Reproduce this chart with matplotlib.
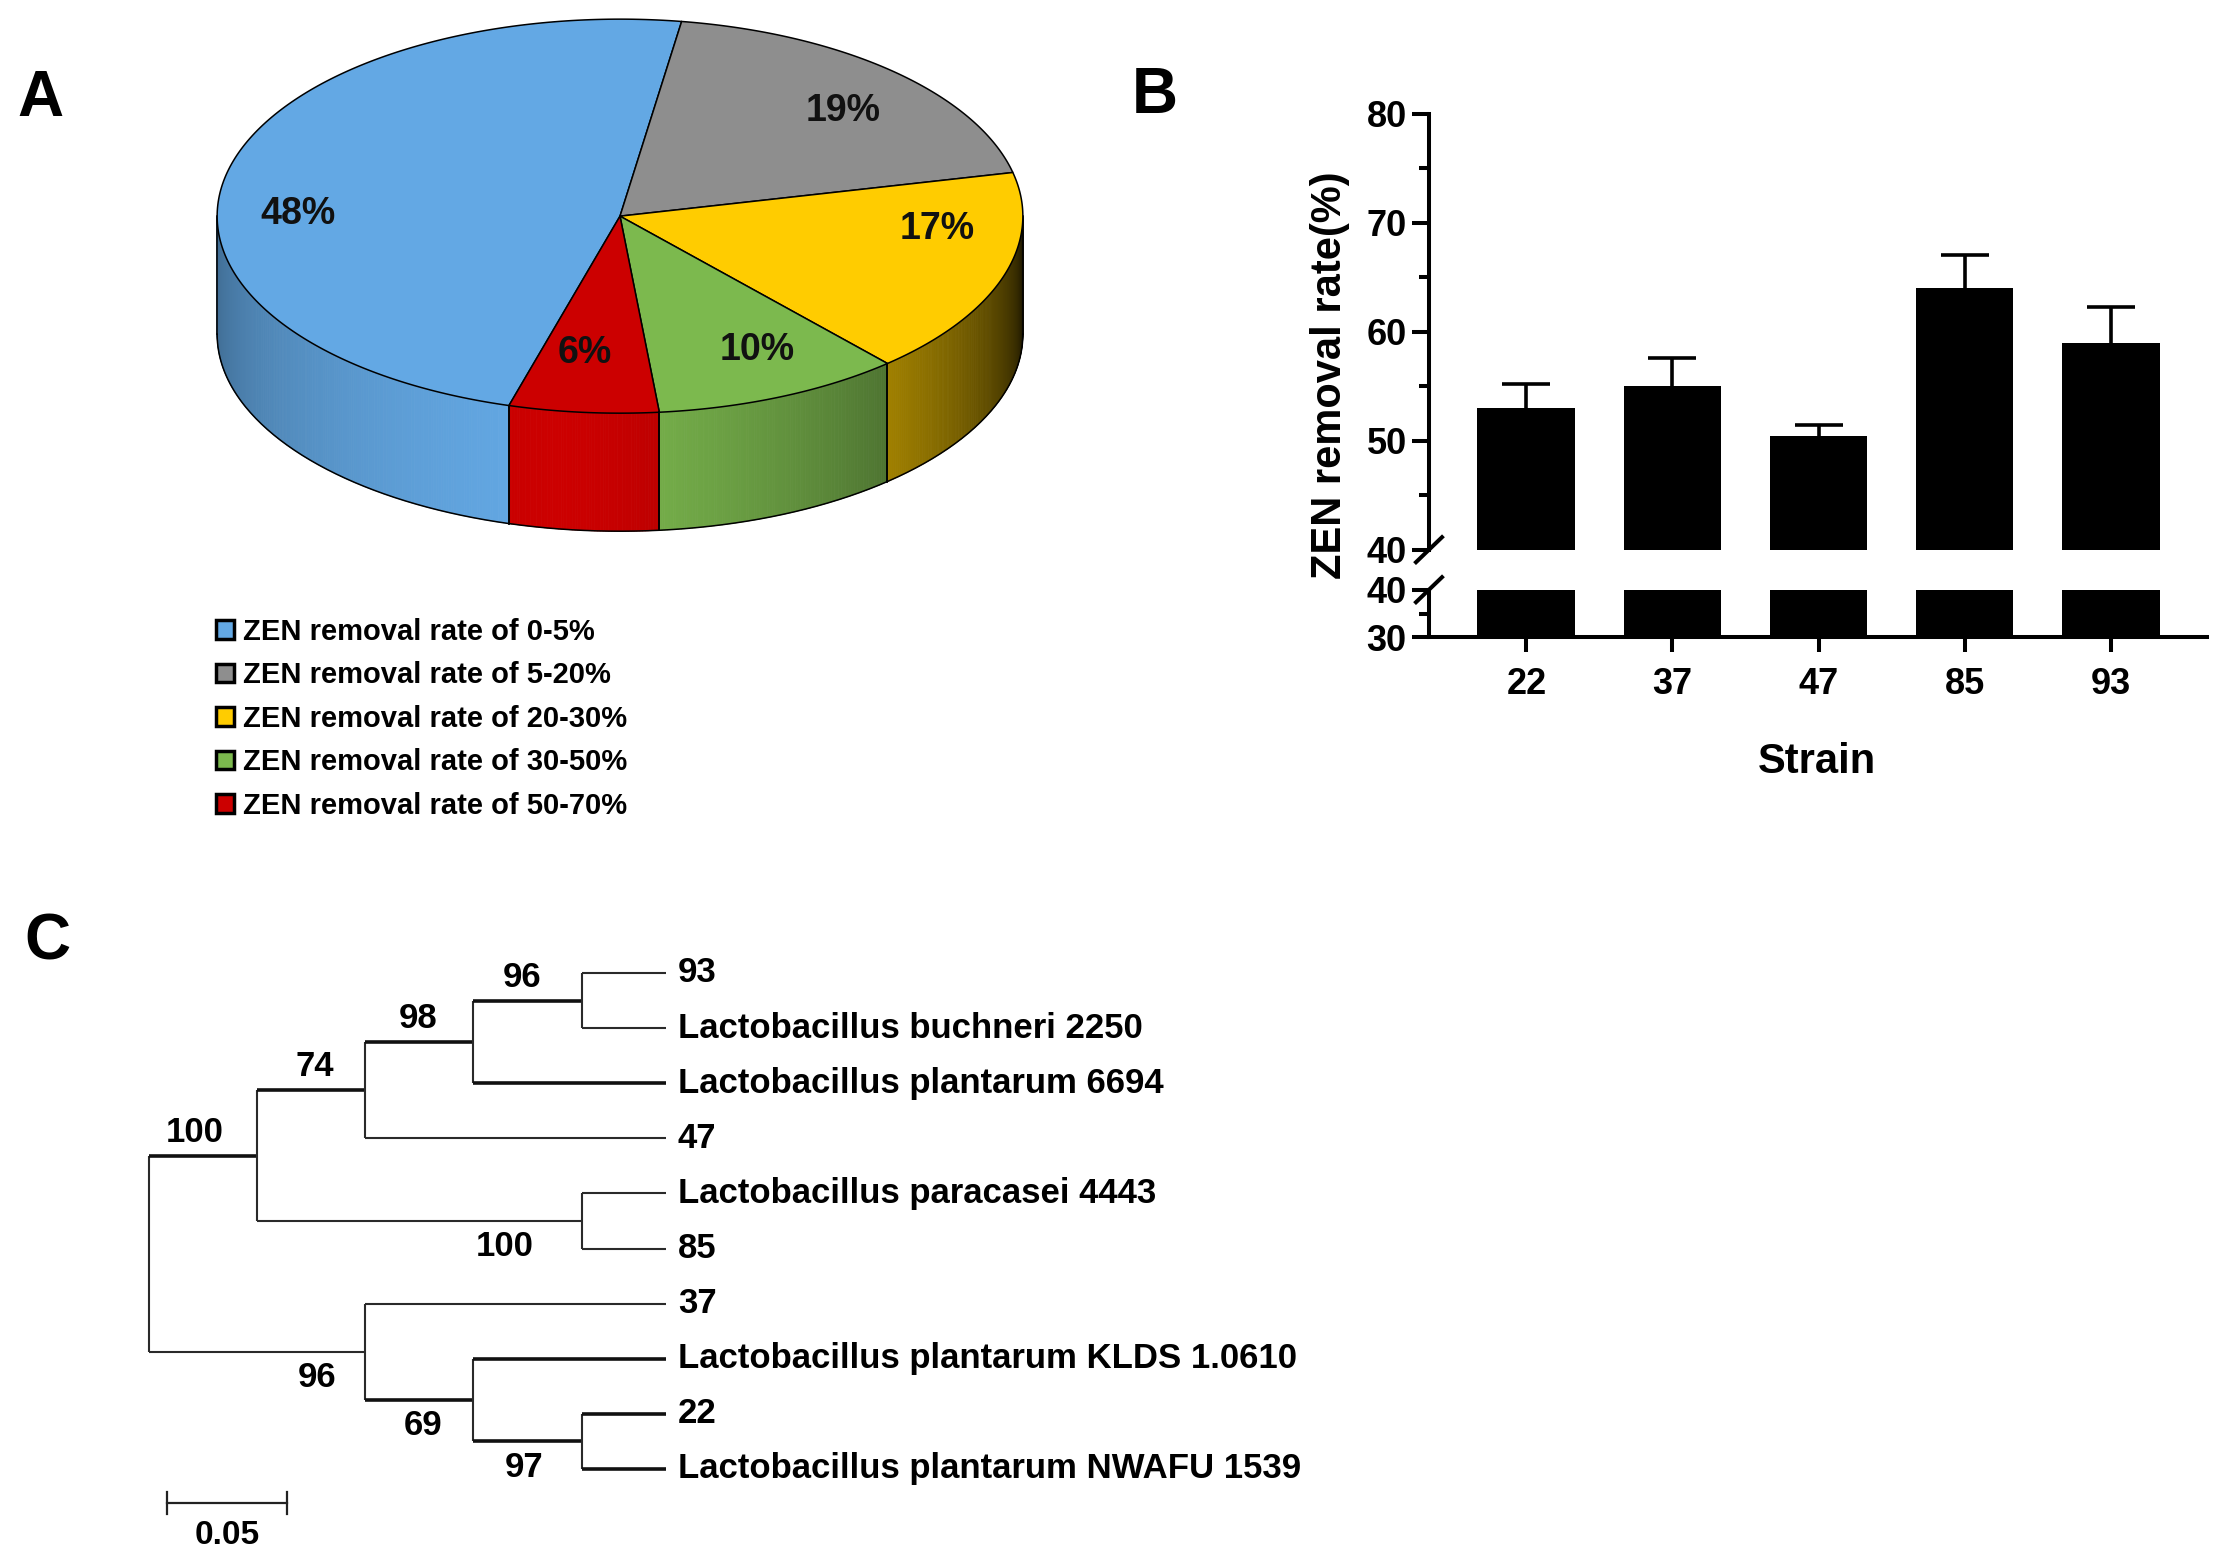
import numpy as np
import matplotlib
matplotlib.use("Agg")
import matplotlib.pyplot as plt
from matplotlib.patches import Polygon, Patch
from matplotlib.collections import PolyCollection
from matplotlib.lines import Line2D
from matplotlib.colors import to_rgb

# ---------------- data ----------------
pie_categories = ["ZEN removal rate of 0-5%", "ZEN removal rate of 5-20%",
                  "ZEN removal rate of 20-30%", "ZEN removal rate of 30-50%",
                  "ZEN removal rate of 50-70%"]
pie_shares = [48, 19, 17, 10, 6]
pie_labels = ["48%", "19%", "17%", "10%", "6%"]
pie_colors = ["#63A8E4", "#8E8E8E", "#FFCC00", "#7CB94E", "#CC0000"]

strains = ["22", "37", "47", "85", "93"]
removal_mean = [53.0, 55.0, 50.4, 64.0, 59.0]
removal_err = [2.2, 2.6, 1.0, 3.0, 3.3]

leaf_names = ["93", "Lactobacillus buchneri 2250", "Lactobacillus plantarum 6694", "47",
              "Lactobacillus paracasei 4443", "85", "37",
              "Lactobacillus plantarum KLDS 1.0610", "22",
              "Lactobacillus plantarum NWAFU 1539"]
node_names = ["root", "E", "C", "B", "A", "D", "H", "G", "F"]
node_children = [["E", "H"], ["C", "D"], ["B", 3], ["A", 2], [0, 1], [4, 5],
                 [6, "G"], [7, "F"], [8, 9]]
node_depth = [0.0, 0.0453, 0.0905, 0.1357, 0.181, 0.181, 0.0905, 0.1357, 0.181]
node_support = [None, 100, 74, 98, 96, 100, 96, 69, 97]
leaf_depth = 0.2165
scale_bar_len = 0.05

# ---------------- style ----------------
W, H = 2224, 1562
plt.rcParams["font.family"] = ["Liberation Sans", "DejaVu Sans"]
plt.rcParams["font.weight"] = "bold"
plt.rcParams["axes.labelweight"] = "bold"

fig = plt.figure(figsize=(W / 100, H / 100), dpi=100)
fig.patch.set_facecolor("white")


def px_rect(x0, y0, x1, y1):
    return [x0 / W, 1 - y1 / H, (x1 - x0) / W, (y1 - y0) / H]


# ================= Panel A : 3D pie =================
axp = fig.add_axes(px_rect(197, -1.4, 1043, 558.6))
axp.set_xlim(-1.05, 1.05)
axp.set_ylim(-0.85, 0.54)
axp.axis("off")
ecc = 0.489      # ellipse squash
depth = 0.293    # side-wall height
start = 254.0    # first slice start angle (deg), clockwise

total = float(sum(pie_shares))
bounds = []
a = start
for v in pie_shares:
    b = a - 360.0 * v / total
    bounds.append((b, a))   # (low, high) angles
    a = b


def shade(t):
    peak = 262.0
    d = t - peak
    if d <= 0:
        return 1 - 0.38 * (abs(d) / 82.0) ** 1.5
    return max(0.08, 1 - 0.9 * (d / 98.0) ** 1.3)


# side walls
for (lo, hi), col in zip(bounds, pie_colors):
    base = np.array(to_rgb(col))
    for k in (-1, 0, 1):
        l2 = max(lo + 360 * k, 180.0)
        h2 = min(hi + 360 * k, 360.0)
        if l2 >= h2:
            continue
        ts = np.linspace(l2, h2, int((h2 - l2) / 0.4) + 2)
        polys, cols = [], []
        for t0, t1 in zip(ts[:-1], ts[1:]):
            r0, r1 = np.radians(t0), np.radians(t1)
            x0, x1 = np.cos(r0), np.cos(r1)
            y0, y1 = ecc * np.sin(r0), ecc * np.sin(r1)
            polys.append([(x0, y0), (x1, y1), (x1, y1 - depth), (x0, y0 - depth)])
            cols.append(np.clip(base * shade(0.5 * (t0 + t1)), 0, 1))
        axp.add_collection(PolyCollection(polys, facecolors=cols, edgecolors=cols,
                                          linewidths=0.6, zorder=1))
        for tt in (l2, h2):
            rr = np.radians(tt)
            axp.plot([np.cos(rr)] * 2, [ecc * np.sin(rr), ecc * np.sin(rr) - depth],
                     color="black", lw=1.1, zorder=3)
tb = np.radians(np.linspace(180, 360, 300))
axp.plot(np.cos(tb), ecc * np.sin(tb) - depth, color="black", lw=1.1, zorder=3)

# top face
for (lo, hi), col in zip(bounds, pie_colors):
    ts = np.radians(np.linspace(lo, hi, 200))
    pts = [(0, 0)] + list(zip(np.cos(ts), ecc * np.sin(ts)))
    axp.add_patch(Polygon(pts, closed=True, facecolor=col, edgecolor="black",
                          lw=1.1, zorder=4))

label_nudge = [11.6, -3, 13, 3, -2]
label_r = [0.80, 0.77, 0.79, 0.76, 0.70]
for (lo, hi), lab, nd, r in zip(bounds, pie_labels, label_nudge, label_r):
    m = np.radians(0.5 * (lo + hi) + nd)
    axp.text(r * np.cos(m), r * ecc * np.sin(m), lab, ha="center", va="center",
             fontsize=27, fontweight="bold", color="#111111", zorder=6)

handles = [Patch(facecolor=c, edgecolor="black", linewidth=2.5) for c in pie_colors]
fig.legend(handles, pie_categories, loc="upper left",
           bbox_to_anchor=(216 / W, 1 - 618 / H), frameon=False,
           prop={"size": 21, "weight": "bold"}, handlelength=0.6,
           handleheight=0.6, handletextpad=0.33, labelspacing=0.53,
           borderpad=0, borderaxespad=0)

# ================= Panel B : broken-axis bar chart =================
ax_up = fig.add_axes(px_rect(1429, 113.8, 2207, 549.7))
ax_lo = fig.add_axes(px_rect(1429, 589.7, 2207, 637.4))
xpos = np.arange(len(strains))
for ax in (ax_up, ax_lo):
    ax.bar(xpos, removal_mean, width=0.67, color="black", zorder=2)
    ax.set_xlim(-0.667, len(strains) - 1 + 0.66)
    for s in ("top", "right"):
        ax.spines[s].set_visible(False)
    ax.spines["left"].set_linewidth(2.9)
    ax.spines["bottom"].set_linewidth(2.9)
    ax.tick_params(axis="y", which="major", length=12, width=2.9, labelsize=26, pad=4)
    ax.tick_params(axis="y", which="minor", length=7, width=2.9)
    ax.set_facecolor("none")
eb = ax_up.errorbar(xpos, removal_mean, yerr=[np.zeros(len(strains)), removal_err],
                    fmt="none", ecolor="black", elinewidth=2.6, capsize=17,
                    capthick=2.6, zorder=3)
eb.lines[1][0].set_visible(False)   # hide the cap at the bar top
ax_up.set_ylim(40, 80)
ax_up.set_yticks([40, 50, 60, 70, 80])
ax_up.set_yticks([45, 55, 65, 75], minor=True)
ax_up.spines["bottom"].set_visible(False)
ax_up.set_xticks([])
ax_lo.set_ylim(30, 40)
ax_lo.set_yticks([30, 40])
ax_lo.set_yticks([35], minor=True)
ax_lo.set_xticks(xpos)
ax_lo.set_xticklabels(strains)
ax_lo.tick_params(axis="x", length=11, width=2.9, labelsize=26, pad=10)

# break marks
for ax, yy in ((ax_up, 0.0), (ax_lo, 1.0)):
    p = ax.get_position()
    cx = p.x0
    cy = p.y0 + yy * p.height
    dx, dy = 13 / W, 12.5 / H
    fig.add_artist(Line2D([cx - dx, cx + dx], [cy - dy, cy + dy], color="black",
                          lw=2.9, transform=fig.transFigure))

fig.text(1330 / W, 1 - 375 / H, "ZEN removal rate(%)", rotation=90, ha="center",
         va="center", fontsize=30, fontweight="bold")
fig.text(1817 / W, 1 - 762 / H, "Strain", ha="center", va="center", fontsize=30,
         fontweight="bold")

# ================= Panel C : tree =================
axt = fig.add_axes(px_rect(100, 940, 1400, 1562))
x_px0, x_scale = 149.0, 2390.0
y_px0, y_step = 973.0, 55.1
axt.set_xlim((100 - x_px0) / x_scale, (1400 - x_px0) / x_scale)
axt.set_ylim((1562 - y_px0) / y_step, (940 - y_px0) / y_step)
axt.axis("off")

idx = {n: i for i, n in enumerate(node_names)}
node_y = {}


def get_y(c):
    if isinstance(c, int):
        return float(c)
    if c in node_y:
        return node_y[c]
    ch = node_children[idx[c]]
    y = 0.5 * (get_y(ch[0]) + get_y(ch[-1]))
    node_y[c] = y
    return y


get_y("root")
thick_nodes = {"E", "C", "B", "A", "G", "F"}
thick_leaves = {2, 7, 8, 9}
thin_lw, thick_lw = 1.5, 2.6
thin_col, thick_col = "#2a2a2a", "#111111"

for n, ch, dp in zip(node_names, node_children, node_depth):
    ys = [get_y(c) for c in ch]
    axt.plot([dp, dp], [min(ys), max(ys)], color=thin_col, lw=thin_lw,
             solid_capstyle="butt")
    for c in ch:
        if isinstance(c, int):
            x1 = leaf_depth
            thick = c in thick_leaves
        else:
            x1 = node_depth[idx[c]]
            thick = c in thick_nodes
        axt.plot([dp, x1], [get_y(c)] * 2, color=thick_col if thick else thin_col,
                 lw=thick_lw if thick else thin_lw, solid_capstyle="butt")

for i, name in enumerate(leaf_names):
    axt.text(leaf_depth + 0.0048, i, name, ha="left", va="center", fontsize=25,
             fontweight="bold")

above = {"E", "C", "B", "A"}
label_offset = {"E": 0.026, "C": 0.021, "B": 0.023, "A": 0.025, "D": 0.032,
                "H": 0.020, "G": 0.021, "F": 0.024}
for n, dp, sup in zip(node_names, node_depth, node_support):
    if sup is None:
        continue
    y = node_y[n]
    lx = dp - label_offset[n]
    if n in above:
        axt.text(lx, y - 0.12, str(sup), ha="center", va="bottom",
                 fontsize=25, fontweight="bold")
    else:
        axt.text(lx, y + 0.17, str(sup), ha="center", va="top",
                 fontsize=25, fontweight="bold")

sb_x0 = (167 - x_px0) / x_scale
sb_y = (1503 - y_px0) / y_step
axt.plot([sb_x0, sb_x0 + scale_bar_len], [sb_y, sb_y], color="#222222", lw=1.6)
for xx in (sb_x0, sb_x0 + scale_bar_len):
    axt.plot([xx, xx], [sb_y - 0.2, sb_y + 0.2], color="#222222", lw=1.6)
axt.text(sb_x0 + scale_bar_len / 2, sb_y + 0.3, "0.05", ha="center", va="top",
         fontsize=24, fontweight="bold")

# panel letters
fig.text(40 / W, 1 - 99 / H, "A", ha="center", va="center", fontsize=46, fontweight="bold")
fig.text(1155 / W, 1 - 96 / H, "B", ha="center", va="center", fontsize=46, fontweight="bold")
fig.text(47 / W, 1 - 943 / H, "C", ha="center", va="center", fontsize=46, fontweight="bold")

fig.savefig("out.png", dpi=100, facecolor="white")
